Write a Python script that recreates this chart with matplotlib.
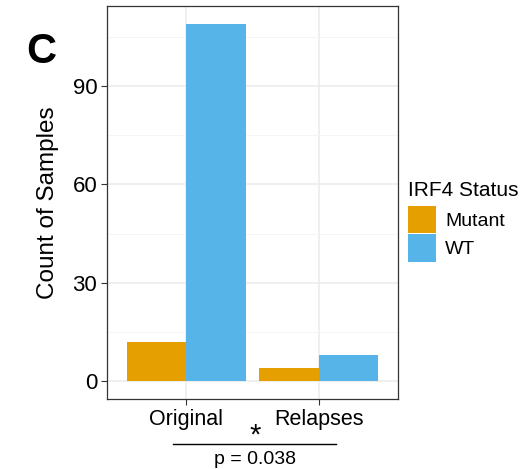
import numpy as np
import matplotlib
matplotlib.use("Agg")
import matplotlib.pyplot as plt
from matplotlib.lines import Line2D
from matplotlib.patches import Patch

groups = ["Original", "Relapses"]
status = ["Mutant", "WT"]
counts_mutant = [12, 4]
counts_wt = [109, 8]
colors = {"Mutant": "#E69F00", "WT": "#56B4E9"}
yticks = [0, 30, 60, 90]
pvalue_label = "p = 0.038"

plt.rcParams["font.family"] = ["Liberation Sans", "DejaVu Sans"]

W, H = 523, 469
fig = plt.figure(figsize=(W / 100, H / 100), dpi=100)
ax = fig.add_axes([107 / W, 1 - 399 / H, 291 / W, 393 / H])

x = np.arange(1, len(groups) + 1)
bw = 0.45
ax.bar(x - bw / 2, counts_mutant, width=bw, color=colors["Mutant"], zorder=3)
ax.bar(x + bw / 2, counts_wt, width=bw, color=colors["WT"], zorder=3)

ymax = max(max(counts_mutant), max(counts_wt))
ax.set_xlim(0.4, 2.6)
ax.set_ylim(-0.05 * ymax, ymax * 1.05)
ax.set_xticks(x)
ax.set_xticklabels(groups, fontsize=15.5)
ax.set_yticks(yticks)
ax.set_yticklabels([str(v) for v in yticks], fontsize=16)
ax.set_yticks([15, 45, 75, 105], minor=True)

ax.grid(True, which="major", color="#EBEBEB", lw=1.1, zorder=0)
ax.grid(True, which="minor", axis="y", color="#F4F4F4", lw=0.6, zorder=0)
ax.tick_params(which="major", length=4, color="#333333", labelcolor="black", pad=3)
ax.tick_params(which="minor", length=0)
for sp in ax.spines.values():
    sp.set_color("#333333")
    sp.set_linewidth(0.9)

ax.set_ylabel("Count of Samples", fontsize=17.5, labelpad=10)

fig.text(41 / W, 1 - 52 / H, "C", fontsize=30, fontweight="bold", ha="center", va="center")

# significance bracket below the axis
fig.text(255 / W, 1 - 436 / H, "*", fontsize=21, ha="center", va="center")
fig.add_artist(Line2D([173 / W, 336 / W], [1 - 444 / H, 1 - 444 / H], color="black", lw=1.0))
fig.text(255 / W, 1 - 459 / H, pvalue_label, fontsize=14, ha="center", va="center")

handles = [Patch(facecolor=colors[s], edgecolor="none") for s in status]
leg = fig.legend(handles, status, title="IRF4 Status", loc="upper left",
                 bbox_to_anchor=(408 / W, 1 - 181 / H), frameon=False,
                 fontsize=14, title_fontsize=15, handlelength=1.45, handleheight=1.8,
                 handletextpad=0.45, labelspacing=0.05, borderaxespad=0,
                 borderpad=0)
leg._legend_box.align = "left"
leg._legend_box.sep = 4

fig.savefig("out.png", dpi=100)
